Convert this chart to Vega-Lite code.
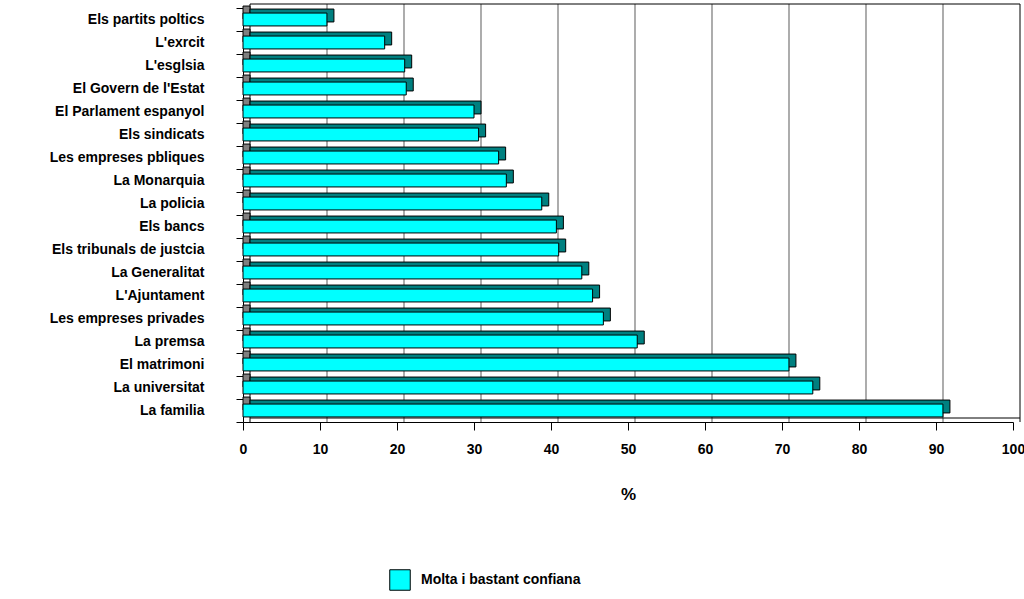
{
  "$schema": "https://vega.github.io/schema/vega-lite/v6.json",
  "autosize": {"type": "none"},
  "padding": {"left": 243, "top": 8, "right": 11, "bottom": 177},
  "width": 770,
  "height": 414,
  "background": "#ffffff",
  "config": {
    "view": {"stroke": null},
    "font": "Liberation Sans",
    "axis": {"labelFont": "Liberation Sans", "labelFontWeight": "bold", "labelColor": "#000000", "domainColor": "#000000", "tickColor": "#000000", "grid": false, "titleFont": "Liberation Sans", "titleColor": "#000000"}
  },
  "datasets": {
    "main": [
      {"cat": "Els partits poltics", "v": 10.9},
      {"cat": "L'exrcit", "v": 18.4},
      {"cat": "L'esglsia", "v": 21.0},
      {"cat": "El Govern de l'Estat", "v": 21.2},
      {"cat": "El Parlament espanyol", "v": 30.0},
      {"cat": "Els sindicats", "v": 30.6},
      {"cat": "Les empreses pbliques", "v": 33.2},
      {"cat": "La Monarquia", "v": 34.2},
      {"cat": "La policia", "v": 38.8},
      {"cat": "Els bancs", "v": 40.7},
      {"cat": "Els tribunals de justcia", "v": 41.0},
      {"cat": "La Generalitat", "v": 44.0},
      {"cat": "L'Ajuntament", "v": 45.4},
      {"cat": "Les empreses privades", "v": 46.8},
      {"cat": "La premsa", "v": 51.2},
      {"cat": "El matrimoni", "v": 70.9},
      {"cat": "La universitat", "v": 74.0},
      {"cat": "La familia", "v": 90.9}
    ],
    "grid": [
      {"g": 0}, {"g": 10}, {"g": 20}, {"g": 30}, {"g": 40}, {"g": 50},
      {"g": 60}, {"g": 70}, {"g": 80}, {"g": 90}, {"g": 100}
    ]
  },
  "layer": [
    {
      "data": {"name": "main"},
      "mark": {"type": "bar", "stroke": "#000000", "strokeWidth": 1, "height": {"band": 0.56}, "fillOpacity": 1, "opacity": 0},
      "encoding": {
        "y": {
          "field": "cat", "type": "nominal", "sort": null,
          "scale": {"paddingInner": 0, "paddingOuter": 0, "domain": ["Els partits poltics", "L'exrcit", "L'esglsia", "El Govern de l'Estat", "El Parlament espanyol", "Els sindicats", "Les empreses pbliques", "La Monarquia", "La policia", "Els bancs", "Els tribunals de justcia", "La Generalitat", "L'Ajuntament", "Les empreses privades", "La premsa", "El matrimoni", "La universitat", "La familia"]},
          "axis": {"title": null, "labelFontSize": 14, "tickBand": "extent", "tickSize": 7, "labelPadding": 32, "domainWidth": 1}
        },
        "x": {
          "field": "v", "type": "quantitative",
          "scale": {"domain": [0, 100], "nice": false},
          "axis": {"title": "%", "values": [0, 10, 20, 30, 40, 50, 60, 70, 80, 90, 100], "labelFontSize": 14, "tickSize": 8, "labelPadding": 12, "titleFontSize": 17, "titleFontWeight": "bold", "titlePadding": 30, "labelFlush": false}
        },
        "x2": {"datum": 0}
      }
    },
    {
      "data": {"name": "grid"},
      "transform": [{"filter": "datum.g > 0 && datum.g < 100"}],
      "mark": {"type": "rule", "color": "#808080", "strokeWidth": 1.3, "xOffset": 7, "yOffset": -4, "y2Offset": -4},
      "encoding": {"x": {"field": "g", "type": "quantitative"}}
    },
    {
      "data": {"name": "grid"},
      "transform": [{"filter": "datum.g == 0 || datum.g == 100"}],
      "mark": {"type": "rule", "color": "#000000", "strokeWidth": 1, "xOffset": 7, "yOffset": -4, "y2Offset": -4},
      "encoding": {"x": {"field": "g", "type": "quantitative"}}
    },
    {
      "data": {"name": "main"},
      "transform": [{"filter": "datum.cat == 'Els partits poltics'"}],
      "mark": {"type": "rule", "color": "#000000", "strokeWidth": 1, "xOffset": 7, "x2Offset": 7, "yOffset": -4},
      "encoding": {
        "y": {"field": "cat", "type": "nominal", "bandPosition": 0, "sort": null},
        "x": {"datum": 0, "type": "quantitative"},
        "x2": {"datum": 100}
      }
    },
    {
      "data": {"name": "main"},
      "transform": [{"filter": "datum.cat == 'La familia'"}],
      "mark": {"type": "rule", "color": "#000000", "strokeWidth": 1, "xOffset": 7, "x2Offset": 7, "yOffset": -4},
      "encoding": {
        "y": {"field": "cat", "type": "nominal", "bandPosition": 1, "sort": null},
        "x": {"datum": 0, "type": "quantitative"},
        "x2": {"datum": 100}
      }
    },
    {
      "data": {"name": "main"},
      "mark": {"type": "bar", "fill": "#808080", "stroke": "#000000", "strokeWidth": 1, "height": {"band": 0.56}, "yOffset": -7, "x2Offset": 7},
      "encoding": {
        "y": {"field": "cat", "type": "nominal", "sort": null},
        "x": {"datum": 0, "type": "quantitative"},
        "x2": {"datum": 0}
      }
    },
    {
      "data": {"name": "main"},
      "mark": {"type": "bar", "fill": "#008080", "stroke": "#000000", "strokeWidth": 1, "height": {"band": 0.56}, "yOffset": -4, "xOffset": 7, "x2Offset": 7},
      "encoding": {
        "y": {"field": "cat", "type": "nominal", "sort": null},
        "x": {"field": "v", "type": "quantitative"},
        "x2": {"datum": 0}
      }
    },
    {
      "data": {"name": "main"},
      "mark": {"type": "bar", "stroke": "#000000", "strokeWidth": 1, "height": {"band": 0.56}, "fillOpacity": 1},
      "encoding": {
        "y": {"field": "cat", "type": "nominal", "sort": null},
        "x": {"field": "v", "type": "quantitative"},
        "x2": {"datum": 0},
        "color": {
          "datum": "Molta i bastant confiana",
          "scale": {"range": ["#00FFFF"]},
          "legend": {"orient": "none", "legendX": 146, "legendY": 561, "title": null, "symbolType": "square", "symbolSize": 420, "symbolStrokeColor": "#000000", "symbolStrokeWidth": 1, "labelFont": "Liberation Sans", "labelFontSize": 14, "labelFontWeight": "bold", "labelColor": "#000000", "labelOffset": 10, "padding": 0}
        }
      }
    }
  ]
}
